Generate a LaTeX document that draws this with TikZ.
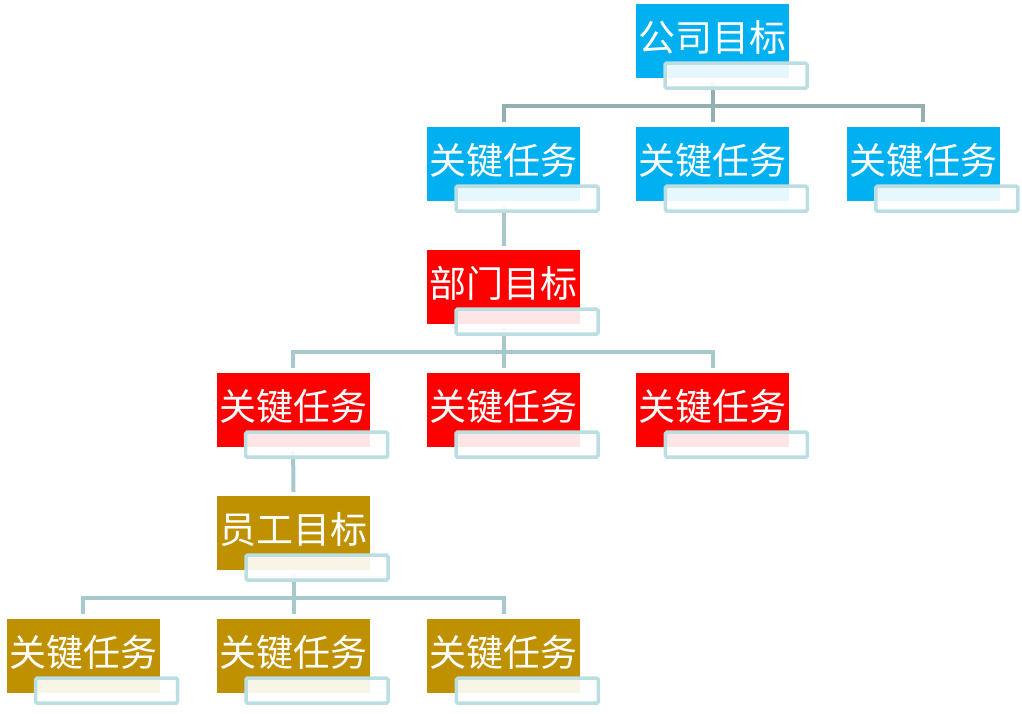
\documentclass[tikz,border=0pt]{standalone}
\usepackage{fontspec}
\usepackage{tikz}
\usetikzlibrary{positioning,calc}
\newfontfamily\cjk{Noto Sans CJK SC}
\definecolor{goalblue}{HTML}{00B0F0}
\definecolor{goalred}{HTML}{FF0000}
\definecolor{goalgold}{HTML}{BF9000}
\definecolor{linetop}{HTML}{93AFB2}
\definecolor{linelow}{HTML}{A7C9CC}
\definecolor{tboxline}{HTML}{BADEE2}
\tikzset{
  goal/.style   = {rectangle, minimum width=153pt, minimum height=74pt, inner sep=0pt,
                   text=white, font=\cjk\fontsize{37}{37}\selectfont,
                   text height=26pt, text depth=5pt},
  tbox/.style   = {rectangle, draw=tboxline, line width=3.5pt, rounded corners=1.5pt,
                   fill=white, fill opacity=0.9, draw opacity=1,
                   minimum width=142pt, minimum height=25pt, inner sep=0pt},
  conn/.style   = {line width=4pt, draw=linelow, line join=miter}
}
\begin{document}
\begin{tikzpicture}[x=1pt,y=-1pt]
    \useasboundingbox (0,0) rectangle (1022,714);
    % company level
    \node[goal, fill=goalblue] (g0) at (712.5,41) {公司目标};
    \node[goal, fill=goalblue] (k1) at (503.5,164) {关键任务};
    \node[goal, fill=goalblue, right=56pt of k1] (k2) {关键任务};
    \node[goal, fill=goalblue, right=57pt of k2] (k3) {关键任务};
    % department level
    \node[goal, fill=goalred] (d0) at (503.5,287) {部门目标};
    \node[goal, fill=goalred] (dk2) at (503.5,410) {关键任务};
    \node[goal, fill=goalred, left=57pt of dk2] (dk1) {关键任务};
    \node[goal, fill=goalred, right=56pt of dk2] (dk3) {关键任务};
    % staff level
    \node[goal, fill=goalgold] (e0) at (293.5,533) {员工目标};
    \node[goal, fill=goalgold] (ek2) at (293.5,656) {关键任务};
    \node[goal, fill=goalgold, left=57pt of ek2] (ek1) {关键任务};
    \node[goal, fill=goalgold, right=57pt of ek2] (ek3) {关键任务};

    \foreach \c in {k1,k2,k3}
        \draw[conn, draw=linetop] ([yshift=-4pt]g0.south) |- ([yshift=20.5pt]\c.north) -- ([yshift=5pt]\c.north);
    \draw[conn] ([yshift=-4pt]k1.south) -- ([yshift=4pt]d0.north);
    \foreach \c in {dk1,dk2,dk3}
        \draw[conn] ([yshift=-4pt]d0.south) |- ([yshift=20.5pt]\c.north) -- ([yshift=5pt]\c.north);
    \draw[conn] ([yshift=-4pt]dk1.south) -- ([yshift=4pt]e0.north);
    \foreach \c in {ek1,ek2,ek3}
        \draw[conn] ([yshift=-4pt]e0.south) |- ([yshift=20.5pt]\c.north) -- ([yshift=5pt]\c.north);

    \foreach \n in {g0,k1,k2,k3,d0,dk1,dk2,dk3,e0,ek1,ek2,ek3}
        \node[tbox] (t\n) at ([xshift=23.5pt,yshift=2.5pt]\n.south) {};
\end{tikzpicture}
\end{document}
